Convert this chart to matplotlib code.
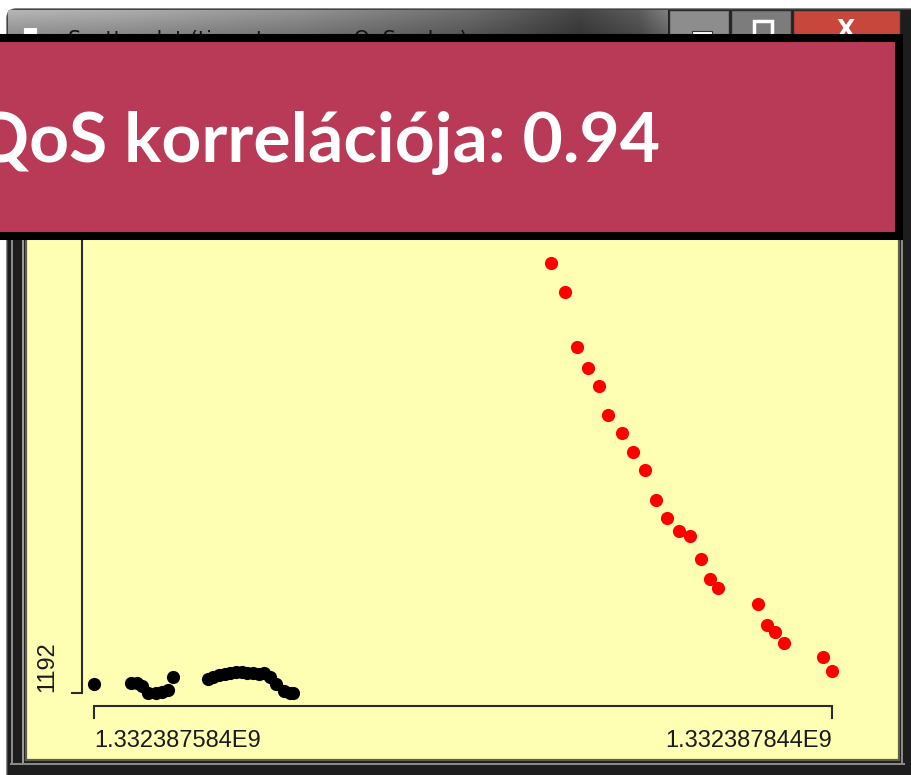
import numpy as np
import matplotlib.pyplot as plt
from matplotlib.patches import Rectangle, FancyBboxPatch

# time stamps (seconds after the first sample) and measured values
base_time = 1332387584
black_dt = [0, 13, 15, 17, 19, 22, 24, 26, 28, 40, 42, 44, 46, 48, 50,
            52, 54, 56, 58, 60, 62, 64, 67, 69, 70]
black_val = [1201, 1202, 1202, 1199, 1192, 1192, 1193, 1195, 1208, 1206,
             1208, 1210, 1211, 1212, 1213, 1213, 1212, 1212, 1211, 1212,
             1208, 1201, 1194, 1192, 1192]
red_dt = [161, 166, 170, 174, 178, 181, 186, 190, 194, 198, 202, 206, 210,
          214, 217, 220, 234, 237, 240, 243, 257, 260]
red_val = [1622, 1593, 1538, 1517, 1499, 1470, 1452, 1433, 1415, 1385, 1367,
           1354, 1349, 1326, 1306, 1297, 1281, 1260, 1253, 1242, 1228, 1214]

banner_text = "QoS korrelációja: 0.94"
window_title = "Scatterplot (timestamp vs. QoS value)"

black_x = np.array(black_dt) + base_time
red_x = np.array(red_dt) + base_time
t_min = min(black_x.min(), red_x.min())
t_max = max(black_x.max(), red_x.max())
v_min = min(min(black_val), min(red_val))
v_max = max(max(black_val), max(red_val))

W, H = 912, 775
fig = plt.figure(figsize=(W / 100, H / 100), dpi=100)
fig.patch.set_facecolor('white')

# window chrome (pixel coordinates)
bg = fig.add_axes([0, 0, 1, 1], zorder=0)
bg.set_xlim(0, W)
bg.set_ylim(H, 0)
bg.axis('off')
bg.add_patch(FancyBboxPatch((7, 9), W + 20, H + 20, boxstyle='round,pad=0,rounding_size=9',
                            fc='#1d1d1d', ec='#555555', lw=1))
stops_x = [8, 120, 300, 470, 580, 640, 668]
stops_c = [158, 150, 128, 95, 60, 80, 110]
xs = np.linspace(8, 668, 400)
row = np.interp(xs, stops_x, stops_c)
shade = np.linspace(1.15, 0.85, 30)[:, None]
grad = np.clip(row[None, :] * shade, 0, 255) / 255.0
bg.imshow(np.dstack([grad, grad, grad]), extent=(8, 668, 40, 10), aspect='auto', zorder=1)
bg.add_patch(Rectangle((669, 10), 60, 30, fc='#8d8d8d', ec='#2a2a2a', lw=1, zorder=2))
bg.add_patch(Rectangle((731, 10), 60, 30, fc='#7c7c7c', ec='#2a2a2a', lw=1, zorder=2))
bg.add_patch(Rectangle((793, 10), 107, 30, fc='#c8473c', ec='#2a2a2a', lw=1, zorder=2))
bg.add_patch(Rectangle((692, 31), 20, 4, fc='white', ec='#333333', lw=0.8, zorder=3))
bg.add_patch(Rectangle((754, 21), 18, 18, fc='none', ec='white', lw=2.5, zorder=3))
bg.text(846, 30, 'X', color='white', fontsize=17, fontweight='bold',
        ha='center', va='center', family='DejaVu Sans', zorder=3)
bg.add_patch(Rectangle((23, 27), 14, 14, fc='white', ec='#999999', lw=0.8, zorder=3))
bg.text(68, 30, window_title, fontsize=15, color='#111111', va='top', ha='left',
        family='DejaVu Sans', zorder=3)
bg.add_patch(Rectangle((11, 40), 2, 725, fc='#8a8a8a', lw=0, zorder=2))
bg.add_patch(Rectangle((22, 40), 2, 725, fc='#9a9a9a', lw=0, zorder=2))
bg.add_patch(Rectangle((10, 763), 895, 2, fc='#8a8a8a', lw=0, zorder=2))
bg.add_patch(Rectangle((901, 40), 2, 725, fc='#8a8a8a', lw=0, zorder=2))

# plot area
AX_L, AX_R, AX_T, AX_B = 26, 899, 238, 760
X0_PX, X1_PX, Y0_PX, YTOP_PX = 94, 832, 693, 263
ax = fig.add_axes([AX_L / W, (H - AX_B) / H, (AX_R - AX_L) / W, (AX_B - AX_T) / H], zorder=1)
ax.set_facecolor('#FFFFB4')
for sp in ax.spines.values():
    sp.set_color('#5f5f48')
    sp.set_linewidth(1.6)
ax.set_xticks([])
ax.set_yticks([])

sx = (t_max - t_min) / (X1_PX - X0_PX)
sy = (v_max - v_min) / (Y0_PX - YTOP_PX)
ax.set_xlim(t_min - (X0_PX - AX_L) * sx, t_max + (AX_R - X1_PX) * sx)
ax.set_ylim(v_min - (AX_B - Y0_PX) * sy, v_max + (YTOP_PX - AX_T) * sy)

ax.plot(black_x, black_val, 'o', color='black', ms=9.5, mew=0)
ax.plot(red_x, red_val, 'o', color='#ff0000', ms=9.5, mew=0)

# axis brackets
axis_col = '#2b2b2b'
y_xaxis = v_min - (706 - Y0_PX) * sy
y_xtick = v_min - (718 - Y0_PX) * sy
ax.plot([t_min, t_min, t_max, t_max], [y_xtick, y_xaxis, y_xaxis, y_xtick],
        color=axis_col, lw=1.5, solid_joinstyle='miter')
x_yaxis = t_min - (X0_PX - 82) * sx
x_ytick = t_min - (X0_PX - 72) * sx
ax.plot([x_ytick, x_yaxis, x_yaxis], [v_min, v_min, ax.get_ylim()[1]],
        color=axis_col, lw=1.5, solid_joinstyle='miter')

label_y = v_min - (741 - Y0_PX) * sy
ax.text(t_min, label_y, f"{t_min / 1e9:.9f}E9", ha='left', va='center',
        fontsize=17, family='Liberation Sans', color='#1a1a1a')
ax.text(t_max, label_y, f"{t_max / 1e9:.9f}E9", ha='right', va='center',
        fontsize=17, family='Liberation Sans', color='#1a1a1a')
ax.text(t_min - (X0_PX - 47) * sx, v_min + (Y0_PX - 667) * sy, f"{v_min:.0f}",
        rotation=90, ha='center', va='center', fontsize=17,
        family='Liberation Sans', color='#1a1a1a')

# banner overlay
ov = fig.add_axes([0, 0, 1, 1], zorder=3)
ov.set_xlim(0, W)
ov.set_ylim(H, 0)
ov.axis('off')
ov.patch.set_alpha(0)
ov.add_patch(Rectangle((-30, 37.5), 929, 198, fc='#B93A56', ec='black', lw=5.8))
ov.text(660, 162, banner_text, color='white', fontsize=50, fontweight='bold',
        family='Lato', ha='right', va='baseline')

fig.savefig('out.png', dpi=100)
